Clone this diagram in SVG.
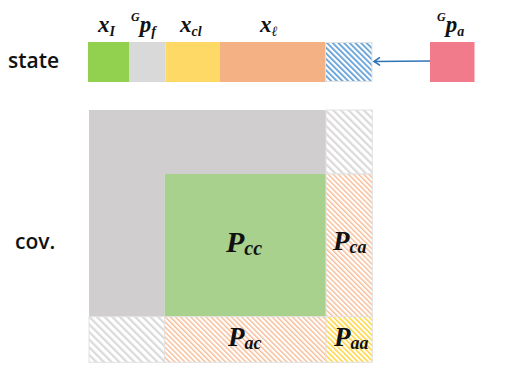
<svg xmlns="http://www.w3.org/2000/svg" width="509" height="389" viewBox="0 0 509 389">
<style>
.lbl{font-family:"Open Sans","Noto Sans",sans-serif;font-weight:600;font-size:21px;fill:#111}
.m{font-family:"Liberation Serif","DejaVu Serif",serif;font-weight:bold;font-style:italic;fill:#111}
.hb{stroke:#e2e2e2;stroke-width:1}
</style>
<defs>
<pattern id="hBlue" patternUnits="userSpaceOnUse" width="4" height="4" patternTransform="rotate(-45)">
<rect width="4" height="4" fill="#fff"/><rect x="0" y="0" width="1.7" height="4" fill="#5b9bd5"/>
</pattern>
<pattern id="hGray" patternUnits="userSpaceOnUse" width="5.4" height="5.4" patternTransform="rotate(-45)">
<rect width="5.4" height="5.4" fill="#fff"/><rect x="0" y="0" width="2.2" height="5.4" fill="#dadada"/>
</pattern>
<pattern id="hOrange" patternUnits="userSpaceOnUse" width="3.6" height="3.6" patternTransform="rotate(-45)">
<rect width="3.6" height="3.6" fill="#fff"/><rect x="0" y="0" width="1.4" height="3.6" fill="#f6bc96"/>
</pattern>
<pattern id="hYellow" patternUnits="userSpaceOnUse" width="3.6" height="3.6" patternTransform="rotate(-45)">
<rect width="3.6" height="3.6" fill="#fff"/><rect x="0" y="0" width="1.5" height="3.6" fill="#ffd43b"/>
</pattern>
<marker id="arr" markerWidth="10" markerHeight="10" refX="7" refY="5" orient="auto" markerUnits="userSpaceOnUse">
<path d="M1,1 L7,5 L1,9" fill="none" stroke="#2e75b6" stroke-width="1.6"/>
</marker>
</defs>
<rect width="509" height="389" fill="#fff"/>

<g id="state-label"><text class="lbl" x="8" y="68">state</text></g>
<g id="cov-label"><text class="lbl" x="15" y="249">cov.</text></g>

<g id="state-xI">
<rect x="88" y="42" width="41" height="40" fill="#92d050"/>
<text class="m" x="98" y="32" font-size="23">x<tspan font-size="14" dy="4">I</tspan></text>
</g>
<g id="state-Gpf">
<rect x="129" y="42" width="36.5" height="40" fill="#d9d9d9"/>
<text class="m" x="131" y="32" font-size="23"><tspan font-size="12" dy="-11">G</tspan><tspan dy="11">p</tspan><tspan font-size="14" dy="4">f</tspan></text>
</g>
<g id="state-xcl">
<rect x="165.5" y="42" width="54.5" height="40" fill="#ffd966"/>
<text class="m" x="180" y="32" font-size="23">x<tspan font-size="14" dy="4">cl</tspan></text>
</g>
<g id="state-xl">
<rect x="220" y="42" width="105" height="40" fill="#f4b183"/>
<text class="m" x="260" y="32" font-size="23">x<tspan font-size="14" dy="4">ℓ</tspan></text>
</g>
<g id="state-slot">
<rect x="325.5" y="42.5" width="46.5" height="39" fill="url(#hBlue)" class="hb"/>
</g>
<g id="state-Gpa">
<rect x="430" y="42" width="44.5" height="40" fill="#f17a8b"/>
<text class="m" x="437" y="32" font-size="23"><tspan font-size="12" dy="-11">G</tspan><tspan dy="11">p</tspan><tspan font-size="14" dy="4">a</tspan></text>
</g>

<g id="connectors">
<line x1="430" y1="61" x2="374" y2="61.5" stroke="#2e75b6" stroke-width="1.5" marker-end="url(#arr)"/>
</g>

<g id="cov-gray">
<path d="M89,110 H326 V174 H164.7 V316.7 H89 Z" fill="#d0cece"/>
</g>
<g id="cov-topright">
<rect x="326" y="110" width="46.3" height="64" fill="url(#hGray)" class="hb"/>
</g>
<g id="cov-Pcc">
<rect x="164.7" y="174" width="161.3" height="142.7" fill="#a9d18e"/>
<text class="m" x="226" y="252" font-size="30">P<tspan font-size="20" dy="3">cc</tspan></text>
</g>
<g id="cov-Pca">
<rect x="326" y="174" width="46.3" height="142.7" fill="url(#hOrange)" class="hb"/>
<text class="m" x="333" y="250" font-size="27">P<tspan font-size="18" dy="3">ca</tspan></text>
</g>
<g id="cov-bottomleft">
<rect x="89" y="316.7" width="75.7" height="45.6" fill="url(#hGray)" class="hb"/>
</g>
<g id="cov-Pac">
<rect x="164.7" y="316.7" width="161.3" height="45.6" fill="url(#hOrange)" class="hb"/>
<text class="m" x="228" y="346" font-size="27">P<tspan font-size="18" dy="3">ac</tspan></text>
</g>
<g id="cov-Paa">
<rect x="326" y="316.7" width="46.3" height="45.6" fill="url(#hYellow)" class="hb"/>
<text class="m" x="334" y="346" font-size="27">P<tspan font-size="18" dy="3">aa</tspan></text>
</g>
</svg>
